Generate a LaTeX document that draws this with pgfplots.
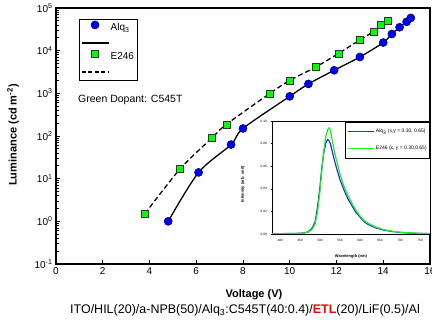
\documentclass[border=0pt]{standalone}
\usepackage{fontspec}
\setmainfont{Liberation Sans}
\usepackage{pgfplots}
\pgfplotsset{compat=1.18}
\definecolor{myblue}{RGB}{0,0,255}
\definecolor{mygreen}{RGB}{0,255,0}
\definecolor{lblue}{RGB}{40,40,255}
\definecolor{lgreen}{RGB}{20,245,20}
\pgfplotsset{markleg/.style={legend image code/.code={\draw[##1] plot coordinates {(13.5pt,3.5pt)};}}}
\begin{document}
\begin{tikzpicture}
\useasboundingbox (0,0) rectangle (432pt,320pt);
\begin{axis}[
  at={(56pt,56pt)}, anchor=south west,
  width=374pt, height=256pt, scale only axis,
  xmin=0, xmax=16, ymin=0.1, ymax=100000,
  ymode=log,
  xtick={0,2,4,6,8,10,12,14,16},
  ytick={0.1,1,10,100,1000,10000,100000},
  yticklabels={10\textsuperscript{-1},10\textsuperscript{0},10\textsuperscript{1},10\textsuperscript{2},10\textsuperscript{3},10\textsuperscript{4},10\textsuperscript{5}},
  tick align=inside, tick pos=left,
  major tick length=4pt, minor tick length=2.5pt,
  axis line style={line width=1.2pt},
  every tick/.style={black, line width=0.8pt},
  ticklabel style={font=\fontsize{10}{12}\selectfont},
  /pgf/number format/assume math mode=true,
  legend style={at={(axis description cs:0.0615,0.957)}, anchor=north west,
    draw=black, line width=0.8pt, font=\fontsize{10}{12}\selectfont,
    inner sep=1.5pt, row sep=0pt,
    nodes={text height=8pt, text depth=3.5pt, inner sep=1.5pt}},
  legend cell align=left,
  legend image code/.code={\draw[#1] (0pt,0pt) -- (27pt,0pt);},
]
\addplot[black, line width=1.3pt, smooth, tension=0.5, forget plot] coordinates {
(4.8,1.0) (6.1,14) (7.49,63) (8.0,150) (10.0,850) (10.8,1660) (11.9,3470) (13.0,7100) (14.0,15500) (14.37,24600) (14.7,35300) (15.0,47300) (15.18,58500)};
\addplot[black, line width=1.3pt, dash pattern=on 5pt off 3pt, smooth, tension=0.5, forget plot] coordinates {
(3.8,1.5) (5.3,16.7) (6.68,91) (7.29,187) (9.14,985) (9.99,2000) (11.1,4100) (12.09,8600) (13.0,17900) (13.58,28000) (13.9,40000) (14.19,51000)};
\addplot[only marks, mark=*, mark size=4pt, mark options={fill=myblue, draw=black!60!blue, line width=0.6pt}, markleg] coordinates {
(4.8,1.0) (6.1,14) (7.49,63) (8.0,150) (10.0,850) (10.8,1660) (11.9,3470) (13.0,7100) (14.0,15500) (14.37,24600) (14.7,35300) (15.0,47300) (15.18,58500)};
\addlegendentry{Alq\textsubscript{3}}
\addlegendimage{black, line width=1.3pt}
\addlegendentry{\mbox{}}
\addplot[only marks, mark=square*, mark size=3.5pt, mark options={fill=mygreen, draw=black!80, line width=0.6pt}, markleg] coordinates {
(3.8,1.5) (5.3,16.7) (6.68,91) (7.29,187) (9.14,985) (9.99,2000) (11.1,4100) (12.09,8600) (13.0,17900) (13.58,28000) (13.9,40000) (14.19,51000)};
\addlegendentry{E246}
\addlegendimage{black, line width=1.3pt, dash pattern=on 4pt off 2.5pt}
\addlegendentry{\mbox{}}
\end{axis}
\node[font=\bfseries\fontsize{11}{13}\selectfont] at (254pt,25pt) {Voltage (V)};
\node[rotate=90, font=\bfseries\fontsize{11}{13}\selectfont] at (13pt,185pt) {Luminance (cd m\textsuperscript{-2})};
\node[font=\fontsize{10.5}{12}\selectfont, anchor=west, inner sep=0pt] at (78pt,220pt) {Green Dopant: C545T};
\node[font=\fontsize{12.5}{14}\selectfont] at (245pt,9.5pt) {ITO/HIL(20)/a-NPB(50)/Alq\textsubscript{3}:C545T(40:0.4)/\textcolor{red}{\textbf{ETL}}(20)/LiF(0.5)/Al};
\begin{axis}[
  at={(272pt,86pt)}, anchor=south west,
  width=158pt, height=113pt, scale only axis,
  xmin=380, xmax=775, ymin=0, ymax=0.1,
  xtick={400,450,500,550,600,650,700,750},
  ytick={0,0.02,0.04,0.06,0.08,0.1},
  yticklabel style={/pgf/number format/.cd, fixed, fixed zerofill, precision=2},
  ticklabel style={font=\fontsize{3.2}{3.6}\selectfont},
  /pgf/number format/assume math mode=true,
  tick align=outside, tick pos=left, major tick length=1.5pt,
  every tick/.style={black, line width=0.4pt},
  axis background/.style={fill=white},
  axis line style={line width=0.7pt},
  xlabel={Wavelength (nm)}, ylabel={Intensity (arb. unit)},
  label style={font=\bfseries\fontsize{4}{5}\selectfont},
  xlabel style={at={(axis description cs:0.5,-0.2)}, anchor=center},
  ylabel style={at={(axis description cs:-0.184,0.44)}, anchor=center},
  legend style={at={(axis description cs:1,0.995)}, anchor=north east, draw=black, line width=0.6pt,
    font=\fontsize{5}{5.5}\selectfont, inner sep=1.5pt, row sep=0pt,
    nodes={text height=8pt, text depth=5.5pt, inner sep=1.5pt}},
  legend cell align=left,
  legend image code/.code={\draw[#1] (0pt,0pt) -- (26pt,0pt);},
]
\addplot[lblue, line width=1.2pt] coordinates {
(380,0.0003) (400,0.0003) (420,0.0004) (440,0.0005) (460,0.0009) (470,0.0018) (480,0.005) (488,0.011) (494,0.024) (500,0.042) (505,0.060) (510,0.073) (515,0.081) (519,0.0835) (522,0.083) (526,0.080) (530,0.074) (535,0.067) (540,0.060) (545,0.054) (550,0.048) (560,0.039) (570,0.031) (580,0.025) (590,0.019) (600,0.015) (610,0.011) (620,0.0085) (640,0.0053) (660,0.0034) (680,0.0022) (700,0.0014) (720,0.0009) (750,0.0005) (775,0.0003)};
\addlegendentry{Alq\textsubscript{3} (x,y = 0.30, 0.65)}
\addplot[lgreen, line width=1.2pt] coordinates {
(380,0.0003) (400,0.0003) (420,0.0004) (440,0.0005) (460,0.0008) (470,0.0015) (480,0.004) (488,0.009) (494,0.02) (500,0.038) (505,0.058) (510,0.075) (515,0.087) (520,0.093) (523,0.094) (526,0.092) (530,0.084) (535,0.075) (540,0.067) (545,0.060) (550,0.053) (560,0.042) (570,0.034) (580,0.027) (590,0.021) (600,0.016) (610,0.012) (620,0.0095) (640,0.006) (660,0.0038) (680,0.0025) (700,0.0016) (720,0.001) (750,0.0006) (775,0.0004)};
\addlegendentry{E246 (x, y = 0.30,0.65)}
\end{axis}
\end{tikzpicture}
\end{document}
